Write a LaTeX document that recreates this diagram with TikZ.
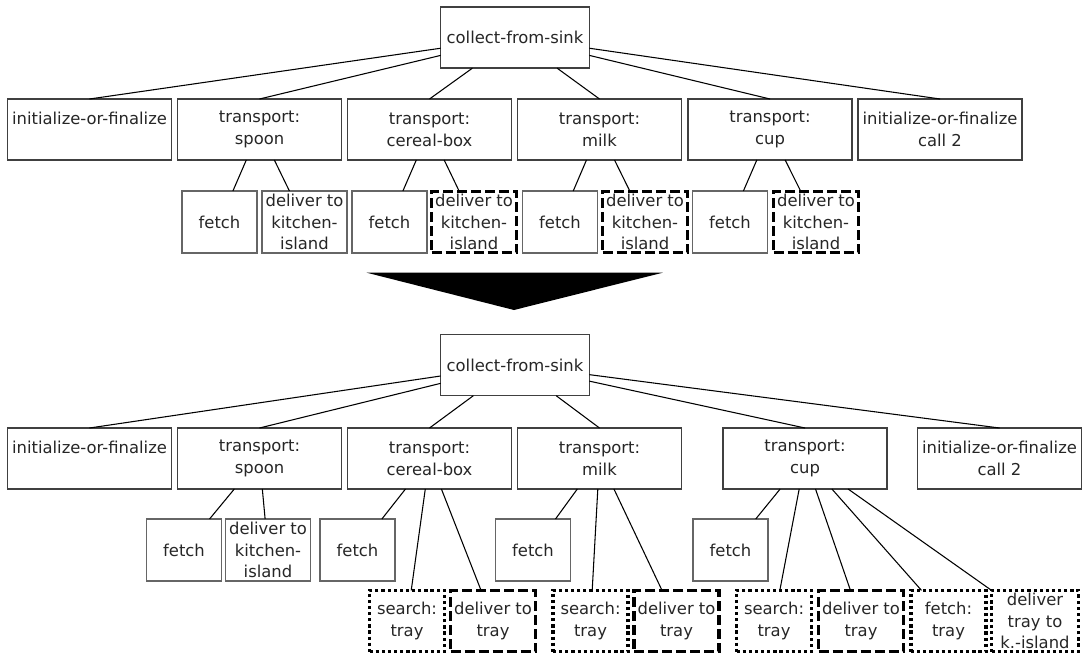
\documentclass[tikz,border=0pt]{standalone}
\usepackage{fontspec}
\setmainfont{DejaVu Sans}
\usetikzlibrary{positioning}
\tikzstyle{task} = [draw=black!75, line width=1.1pt, minimum width=123pt, minimum height=45.75pt, inner sep=0pt, outer sep=0pt]
\tikzstyle{root} = [task, minimum width=111.5pt, minimum height=46pt]
\tikzstyle{leaf} = [draw=black!60, line width=0.8pt, minimum width=56.25pt, minimum height=46.5pt, inner sep=0pt, outer sep=0pt]
\tikzstyle{wide} = [leaf, minimum width=63.75pt]
\tikzstyle{newdash} = [draw=black, line width=2.7pt, dash pattern=on 7.5pt off 3pt, minimum height=46pt, inner sep=0pt, outer sep=0pt]
\tikzstyle{newdot} = [draw=black, line width=2.7pt, dash pattern=on 2.4pt off 2.2pt, minimum height=46pt, inner sep=0pt, outer sep=0pt]
\tikzstyle{edge} = [draw=black, line width=0.8pt]
\tikzset{every label/.style={align=center, inner sep=0pt, text=black!85, font=\fontsize{12.3}{16.3}\selectfont}}

\begin{document}
\begin{tikzpicture}[x=0.75pt,y=-0.75pt]
        \useasboundingbox (0,0) rectangle (1082,664);
        %Upper tree
        \node [root, label={center:collect-from-sink}] (sink1) at (515,37.5) {};
        \node [task, label={[yshift=8.15pt]center:initialize-or-finalize}] (init1) at (89.5,129.5) {};
        \node [task, label={center:{transport:\\spoon}}] (spoon1) at (259.5,129.5) {};
        \node [task, label={center:{transport:\\cereal-box}}] (cereal1) at (429.5,129.5) {};
        \node [task, label={center:{transport:\\milk}}] (milk1) at (599.5,129.5) {};
        \node [task, label={center:{transport:\\cup}}] (cup1) at (770,129.5) {};
        \node [task, label={center:{initialize-or-finalize\\call 2}}] (fin1) at (940,129.5) {};
        \node [leaf, label={center:fetch}] (fetchS1) at (219.5,222) {};
        \node [wide, label={center:{deliver to\\kitchen-\\island}}] (delS1) at (304.5,222) {};
        \node [leaf, label={center:fetch}] (fetchC1) at (389.5,222) {};
        \node [newdash, minimum width=63.75pt, label={center:{deliver to\\kitchen-\\island}}] (delC1) at (474,222) {};
        \node [leaf, label={center:fetch}] (fetchM1) at (560,222) {};
        \node [newdash, minimum width=63.75pt, label={center:{deliver to\\kitchen-\\island}}] (delM1) at (645,222) {};
        \node [leaf, label={center:fetch}] (fetchU1) at (730,222) {};
        \node [newdash, minimum width=63.75pt, label={center:{deliver to\\kitchen-\\island}}] (delU1) at (816,222) {};
        %Arrow
        \fill (366.7,272.7) -- (662.7,272.7) -- (514,310) -- cycle;
        %Lower tree
        \node [root, label={center:collect-from-sink}] (sink2) at (515,365) {};
        \node [task, label={[yshift=8.15pt]center:initialize-or-finalize}] (init2) at (89.5,458.5) {};
        \node [task, label={center:{transport:\\spoon}}] (spoon2) at (259.5,458.5) {};
        \node [task, label={center:{transport:\\cereal-box}}] (cereal2) at (429.5,458.5) {};
        \node [task, label={center:{transport:\\milk}}] (milk2) at (599.5,458.5) {};
        \node [task, label={center:{transport:\\cup}}] (cup2) at (805,458.5) {};
        \node [task, label={center:{initialize-or-finalize\\call 2}}] (fin2) at (999.5,458.5) {};
        \node [leaf, label={center:fetch}] (fetchS2) at (184,550) {};
        \node [wide, label={center:{deliver to\\kitchen-\\island}}] (delS2) at (268,550) {};
        \node [leaf, label={center:fetch}] (fetchC2) at (357.5,550) {};
        \node [leaf, label={center:fetch}] (fetchM2) at (533,550) {};
        \node [leaf, label={center:fetch}] (fetchU2) at (730.5,550) {};
        \node [newdot, minimum width=56.25pt, label={center:{search:\\tray}}] (searchC) at (407,621) {};
        \node [newdash, minimum width=63.75pt, label={center:{deliver to\\tray}}] (trayC) at (493,621) {};
        \node [newdot, minimum width=56.25pt, label={center:{search:\\tray}}] (searchM) at (590.5,621) {};
        \node [newdash, minimum width=63.75pt, label={center:{deliver to\\tray}}] (trayM) at (676.5,621) {};
        \node [newdot, minimum width=56.25pt, label={center:{search:\\tray}}] (searchU) at (774,621) {};
        \node [newdash, minimum width=63.75pt, label={center:{deliver to\\tray}}] (trayU) at (861,621) {};
        \node [newdot, minimum width=56.25pt, label={center:{fetch:\\tray}}] (fetchT) at (948.5,621) {};
        \node [newdot, minimum width=65.25pt, label={center:{deliver\\tray to\\k.-island}}] (islandU) at (1035,621) {};
        %Edges
        \foreach \n in {init1,spoon1,cereal1,milk1,cup1,fin1}
            \draw [edge] (sink1) -- (\n.north);
        \foreach \n in {init2,spoon2,cereal2,milk2,cup2,fin2}
            \draw [edge] (sink2) -- (\n.north);
        \draw [edge] (spoon1) -- (fetchS1) (spoon1) -- (delS1)
            (cereal1) -- (fetchC1) (cereal1) -- (delC1)
            (milk1) -- (fetchM1) (milk1) -- (delM1)
            (cup1) -- (fetchU1) (cup1) -- (delU1);
        \draw [edge] (spoon2) -- (fetchS2) (spoon2) -- (delS2)
            (cereal2) -- (fetchC2) (cereal2) -- (searchC) (cereal2) -- (trayC)
            (milk2) -- (fetchM2) (milk2) -- (searchM) (milk2) -- (trayM)
            (cup2) -- (fetchU2) (cup2) -- (searchU) (cup2) -- (trayU)
            (cup2) -- (fetchT) (cup2) -- (islandU);
    \end{tikzpicture}
\end{document}
